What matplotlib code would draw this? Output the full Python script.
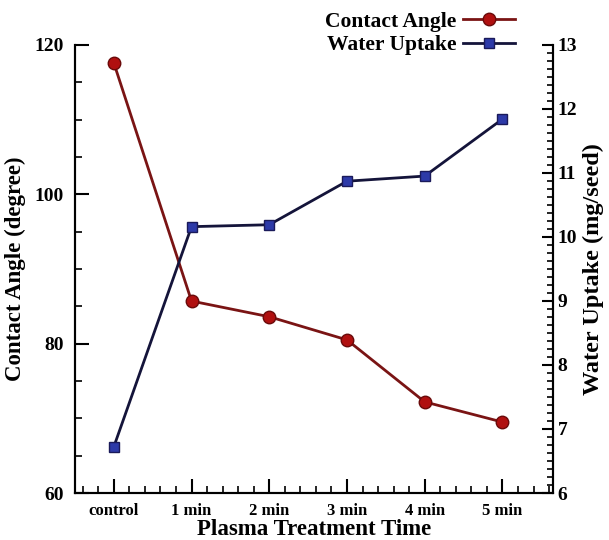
import matplotlib.pyplot as plt
from matplotlib.ticker import MultipleLocator

plt.rcParams['font.family'] = 'Liberation Serif'
plt.rcParams['font.weight'] = 'bold'

# data
categories = ['control', '1 min', '2 min', '3 min', '4 min', '5 min']
contact_angle = [117.6, 85.7, 83.6, 80.5, 72.2, 69.5]
water_uptake = [6.72, 10.16, 10.19, 10.87, 10.95, 11.84]

x = list(range(len(categories)))

fig = plt.figure(figsize=(6.09, 5.4), dpi=100)
ax = fig.add_axes([0.123, 0.087, 0.785, 0.83])
ax2 = ax.twinx()

l1, = ax.plot(x, contact_angle, color='#7a1414', lw=2, marker='o', markersize=9,
              markerfacecolor='#b01010', markeredgecolor='#6a0a0a', label='Contact Angle')
l2, = ax2.plot(x, water_uptake, color='#14143a', lw=2, marker='s', markersize=7,
               markerfacecolor='#2d3aa8', markeredgecolor='#1a1a5a', label='Water Uptake')

ax.set_xlim(-0.5, 5.65)
ax.set_ylim(60, 120)
ax2.set_ylim(6, 13)

ax.set_xticks(x)
ax.set_xticklabels(categories)
ax.xaxis.set_minor_locator(MultipleLocator(0.2))
ax.yaxis.set_major_locator(MultipleLocator(20))
ax.yaxis.set_minor_locator(MultipleLocator(5))
ax2.yaxis.set_major_locator(MultipleLocator(1))
ax2.yaxis.set_minor_locator(MultipleLocator(0.125))

for a in (ax, ax2):
    a.spines['top'].set_visible(False)
    for s in a.spines.values():
        s.set_linewidth(1.5)
ax.tick_params(axis='both', which='major', direction='in', length=10, width=1.5, labelsize=12)
ax.tick_params(axis='both', which='minor', direction='in', length=5, width=1.2)
ax.tick_params(axis='y', labelsize=14, pad=8)
ax.tick_params(axis='x', pad=7)
ax2.tick_params(axis='y', which='major', direction='in', length=8, width=1.5, labelsize=14)
ax2.tick_params(axis='y', which='minor', direction='in', length=4, width=1.2)

ax.set_xlabel('Plasma Treatment Time', fontsize=16.5, fontweight='bold', labelpad=0)
ax.set_ylabel('Contact Angle (degree)', fontsize=16.5, fontweight='bold', labelpad=6)
ax2.set_ylabel('Water Uptake (mg/seed)', fontsize=17.5, fontweight='bold', labelpad=4)

fig.legend(handles=[l1, l2], loc='upper right', bbox_to_anchor=(0.87, 1.006),
           markerfirst=False, frameon=False, handlelength=2.4, handletextpad=0.3,
           labelspacing=0.15, borderpad=0.2, prop={'size': 15.5, 'weight': 'bold'})

fig.savefig('out.png', dpi=100)
